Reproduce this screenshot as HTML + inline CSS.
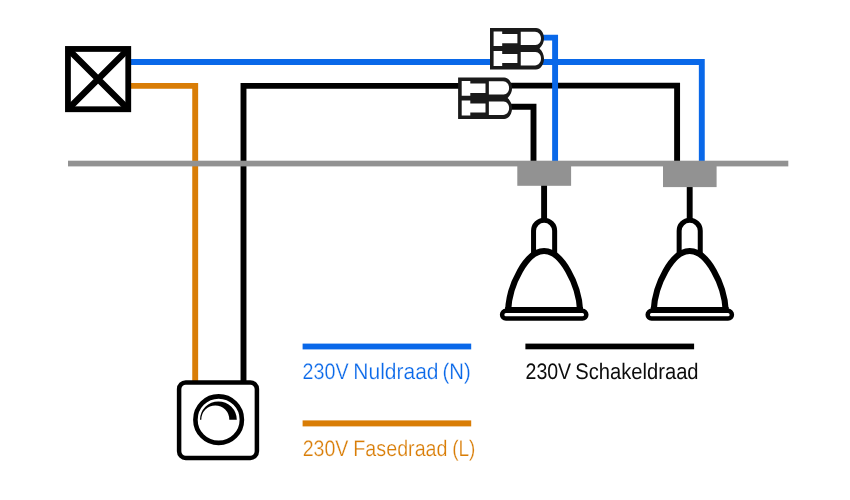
<!DOCTYPE html>
<html lang="nl">
<head>
<meta charset="utf-8">
<title>Aansluitschema dimmer</title>
<style>
  html, body { margin: 0; padding: 0; background: #ffffff; }
  body { width: 850px; height: 500px; overflow: hidden; }
  svg { display: block; will-change: transform; }
  text { font-family: "Liberation Sans", sans-serif; font-size: 22.4px; text-rendering: geometricPrecision; stroke: #ffffff; stroke-width: 0.25px; }
</style>
</head>
<body>
<svg width="850" height="500" viewBox="0 0 850 500">
  <rect x="0" y="0" width="850" height="500" fill="#ffffff"/>

  <!-- wires -->
  <g fill="none" stroke-width="5.9" stroke-linejoin="miter" stroke-linecap="butt">
    <!-- orange phase wire -->
    <path d="M130 85.9 H195.2 V383" stroke="#d97d06"/>
    <!-- black switched wire -->
    <path d="M243.5 383 V85.9 H460" stroke="#000000"/>
    <path d="M510 85.6 H677.1 V163" stroke="#000000"/>
    <path d="M510 106.7 H533.5 V163" stroke="#000000"/>
    <!-- blue neutral wire -->
    <path d="M130 62 H492" stroke="#0968e9"/>
    <path d="M542 62 H701.8 V163" stroke="#0968e9"/>
    <path d="M542 37.6 H555.1 V163" stroke="#0968e9"/>
  </g>

  <!-- junction box -->
  <g fill="none" stroke="#000">
    <rect x="67.95" y="48.95" width="60.3" height="60.3" fill="#fff" stroke-width="5.8"/>
    <path d="M67.95 48.95 L128.25 109.25 M128.25 48.95 L67.95 109.25" stroke-width="6.4"/>
  </g>

  <!-- connector symbol -->
  <defs>
    <g id="conn">
      <path d="M0 0 H46 C50.5 0 54 4.6 54 10.5 C54 14.3 52.2 17.9 49.5 20.4 C52.2 22.9 54 26.5 54 30.5 C54 36.6 50.5 41.5 46 41.5 H0 Z" fill="#1a1a1a"/>
      <path d="M3.6 3.5 H12.2 V6 H27.4 V15.3 H12.2 V18.1 H3.6 Z" fill="#fff"/>
      <path d="M3.6 22.9 H12.2 V25.9 H27.4 V35 H12.2 V37.9 H3.6 Z" fill="#fff"/>
      <path d="M30.75 3.75 H45 C48.5 3.75 51 6.8 51 10.5 C51 14 48.8 17 45.5 17 H30.75 Z" fill="#fff"/>
      <path d="M30.75 24 H45.5 C48.8 24 51 27 51 30.5 C51 34.3 48.5 37.4 45 37.4 H30.75 Z" fill="#fff"/>
    </g>
    <g id="lamp">
      <path d="M0 -26 V10" stroke="#000" stroke-width="5.9" fill="none"/>
      <path d="M-10.55 42 V19.85 A10.55 10.55 0 0 1 10.55 19.85 V42" stroke="#000" stroke-width="5" fill="#fff"/>
      <path d="M-35.95 99 C-34.7 73.4 -17.6 40 0 40 C17.6 40 34.7 73.4 35.95 99" stroke="#000" stroke-width="6.1" fill="#fff"/>
      <rect x="-38.9" y="96" width="77.8" height="5" fill="#000"/>
      <rect x="-42" y="99.85" width="84.2" height="7.7" rx="3.85" stroke="#000" stroke-width="4.5" fill="#fff"/>
    </g>
  </defs>
  <use href="#conn" x="490" y="28"/>
  <use href="#conn" x="458.1" y="77.6"/>

  <!-- lamps -->
  <use href="#lamp" x="544.1" y="211"/>
  <use href="#lamp" x="689.7" y="211"/>

  <!-- ceiling -->
  <rect x="68" y="160.7" width="720.3" height="5.7" fill="#929292"/>
  <rect x="517.3" y="161" width="53.8" height="24.8" fill="#929292"/>
  <rect x="663" y="161" width="53.6" height="26.1" fill="#929292"/>

  <!-- dimmer -->
  <rect x="179.1" y="382.5" width="77.8" height="75.4" rx="6.6" fill="#fff" stroke="#000" stroke-width="4.5"/>
  <circle cx="218.65" cy="419.65" r="23.25" fill="#fff" stroke="#000" stroke-width="4.6"/>
  <path d="M200 419.8 A18.4 18.4 0 0 1 236.8 419.8 H229.3 A14 14.4 0 0 0 201.3 419.8 Z" fill="#000"/>

  <!-- legend -->
  <rect x="302.6" y="343.6" width="168.6" height="5.8" fill="#0968e9"/>
  <text y="378.5" fill="#0968e9"><tspan x="302.61" textLength="45.95" lengthAdjust="spacingAndGlyphs">230V</tspan> <tspan x="353.31" textLength="85.24" lengthAdjust="spacingAndGlyphs">Nuldraad</tspan> <tspan x="442.54" textLength="28.21" lengthAdjust="spacingAndGlyphs">(N)</tspan></text>
  <rect x="302.6" y="420.4" width="168.6" height="6" fill="#d97d06"/>
  <text y="455.8" fill="#d97d06"><tspan x="302.63" textLength="45.75" lengthAdjust="spacingAndGlyphs">230V</tspan> <tspan x="353.33" textLength="94.21" lengthAdjust="spacingAndGlyphs">Fasedraad</tspan> <tspan x="452.17" textLength="23.23" lengthAdjust="spacingAndGlyphs">(L)</tspan></text>
  <rect x="525.4" y="343.6" width="168.7" height="5.7" fill="#000"/>
  <text y="378.8" fill="#0c0c0c" style="stroke:none"><tspan x="525.55" textLength="45.60" lengthAdjust="spacingAndGlyphs">230V</tspan> <tspan x="575.32" textLength="123.26" lengthAdjust="spacingAndGlyphs">Schakeldraad</tspan></text>
</svg>
</body>
</html>
